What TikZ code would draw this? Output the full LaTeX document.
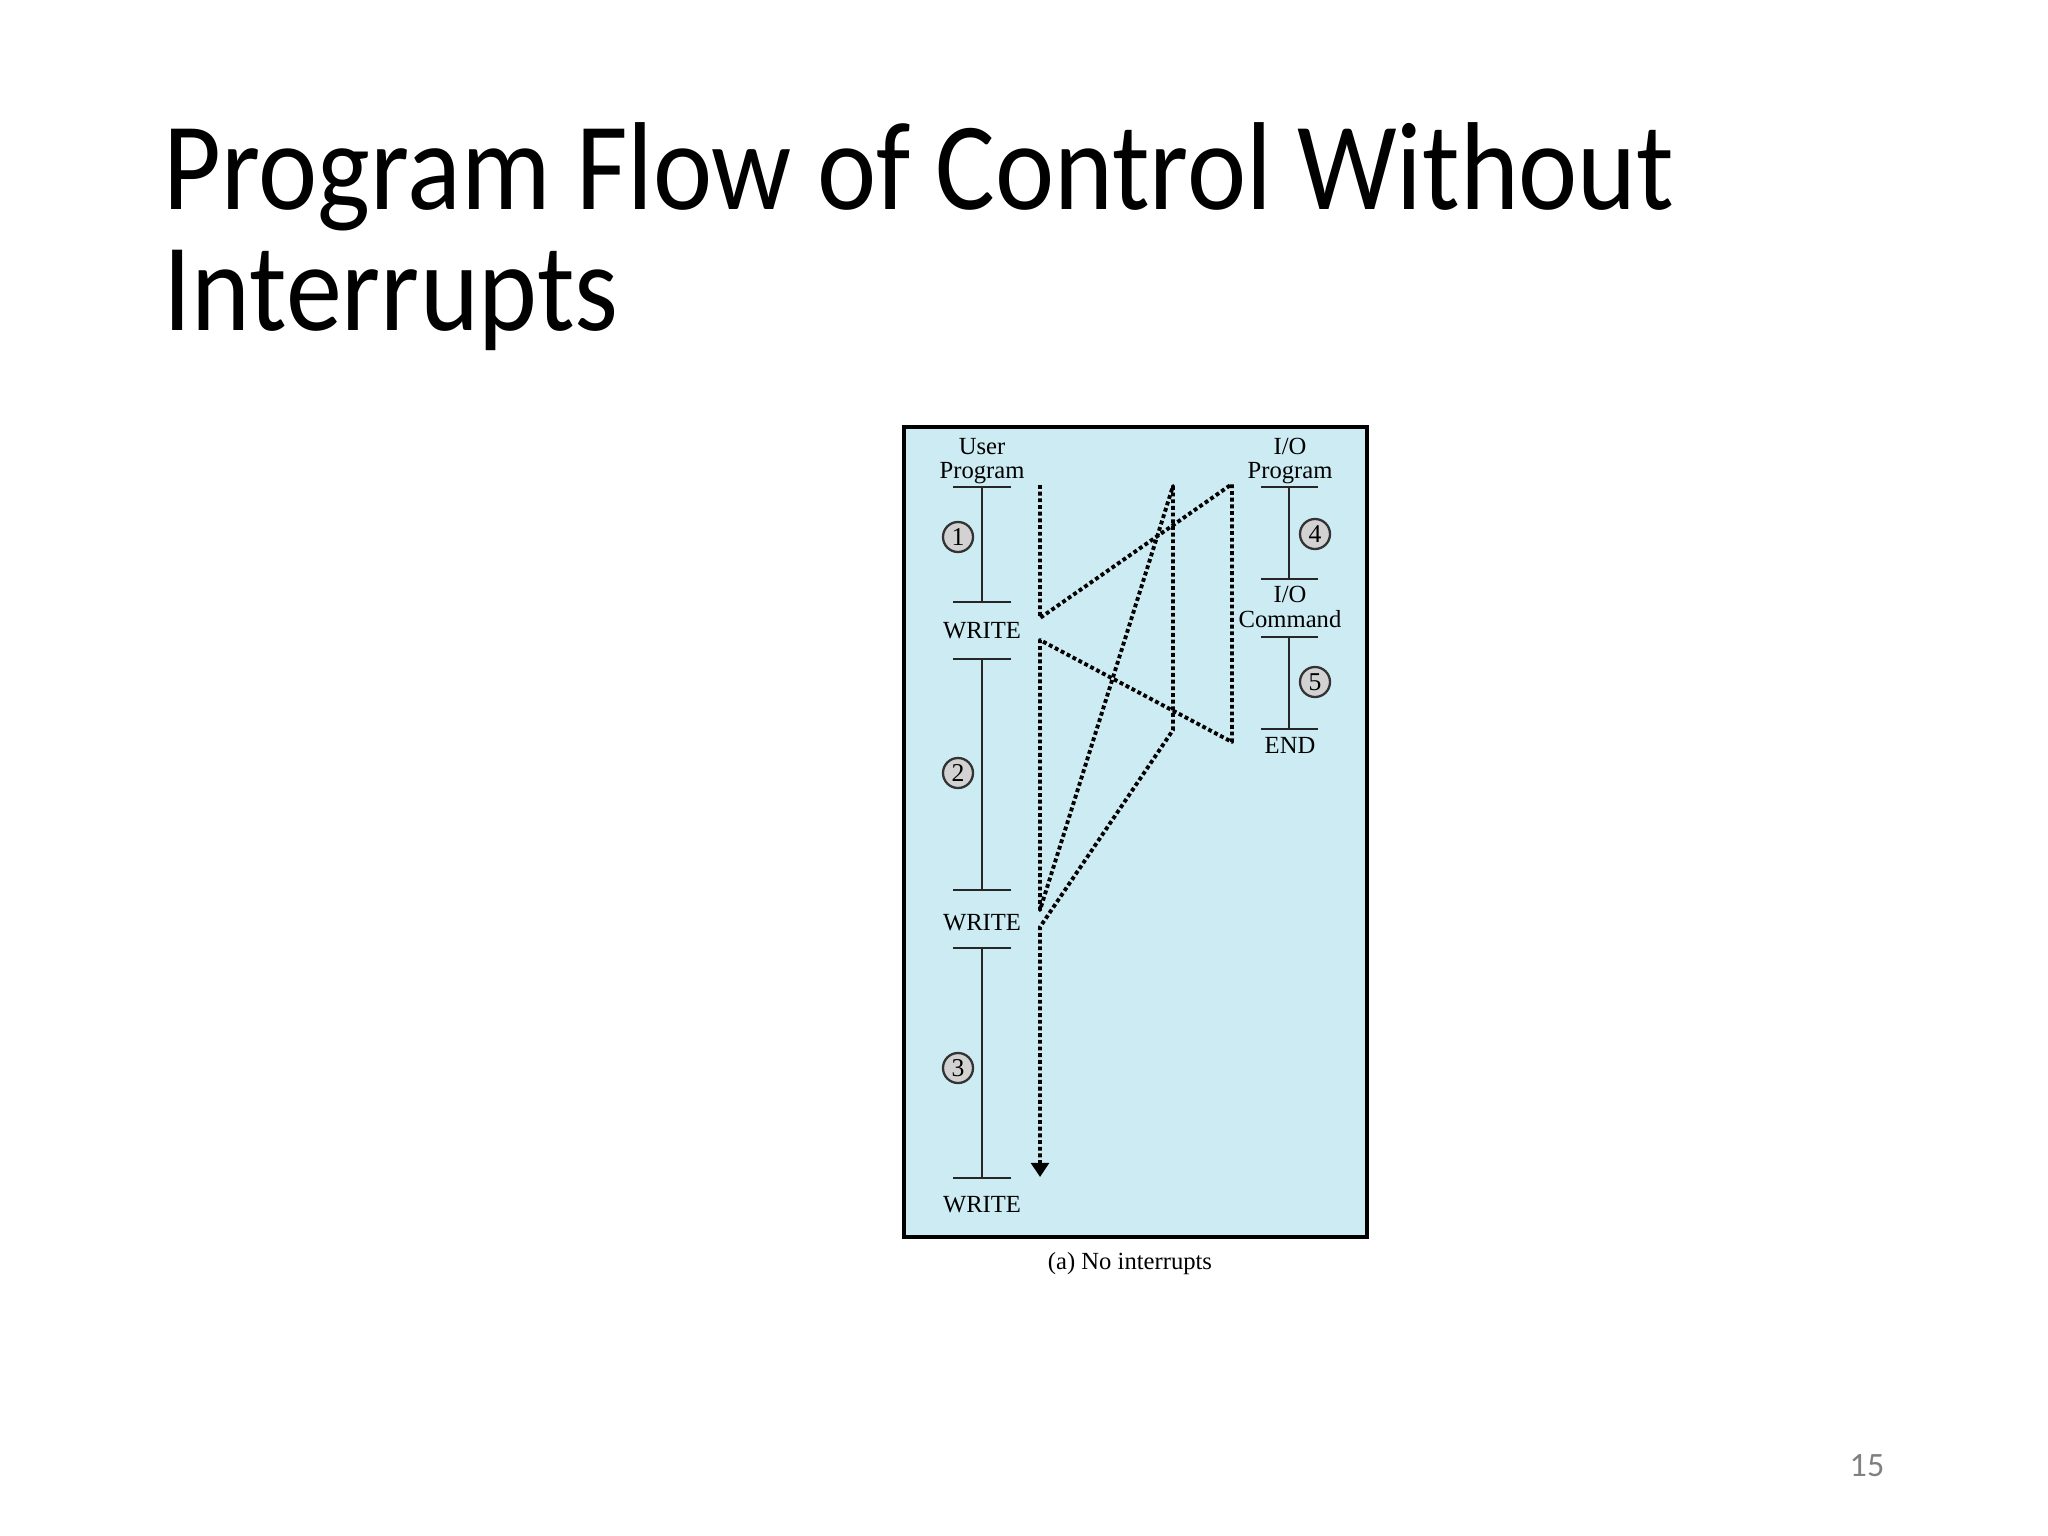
\documentclass[tikz,border=0pt]{standalone}
\usepackage{fontspec}
\setmainfont{Carlito}
\newfontfamily\titulo[FakeStretch=0.895]{Carlito}
\newfontfamily\livro{Liberation Serif}
\usetikzlibrary{arrows.meta}
\definecolor{fundo}{RGB}{204,235,242}
\definecolor{circulo}{RGB}{210,210,210}
\tikzset{
    fluxo/.style={line width=1.1pt, dash pattern=on 1.1pt off 0.8pt, line join=round},
    linha/.style={line width=0.65pt, draw=black!85},
    passo/.style={circle, draw=black!80, fill=circulo, line width=0.65pt, minimum size=0.3cm, inner sep=0pt, font=\livro\fontsize{7.3}{7.3}\selectfont},
    rotulo/.style={inner sep=0pt, font=\livro\fontsize{7}{6.9}\selectfont, align=center}
}

\begin{document}
\begin{tikzpicture}[x=0.01cm, y=-0.01cm]
    \useasboundingbox (0,0) rectangle (2048,1536);
    % titulo e numero do slide
    \node[anchor=base west, inner sep=0pt, font=\titulo\fontsize{35.6}{35}\selectfont] (titulo1) at (163,209) {Program Flow of Control Without};
    \node[anchor=base west, inner sep=0pt, font=\titulo\fontsize{35.6}{35}\selectfont] (titulo2) at (163,330) {Interrupts};
    \node[anchor=base east, inner sep=0pt, text=black!50, font=\fontsize{9.7}{9.7}\selectfont] (pagina) at (1885,1476) {15};

    % quadro
    \draw[fill=fundo, line width=1.1pt] (904,427) rectangle (1367,1237);

    % programa do usuario
    \node[rotulo] (usuario) at (982,461) {User\\Program};
    \draw[linha] (953,487) -- (1011,487);
    \draw[linha] (982,487) -- (982,602);
    \draw[linha] (953,602) -- (1011,602);
    \node[rotulo, anchor=base] (write1) at (982,638) {WRITE};
    \draw[linha] (953,659) -- (1011,659);
    \draw[linha] (982,659) -- (982,890);
    \draw[linha] (953,890) -- (1011,890);
    \node[rotulo, anchor=base] (write2) at (982,930) {WRITE};
    \draw[linha] (953,948) -- (1011,948);
    \draw[linha] (982,948) -- (982,1178);
    \draw[linha] (953,1178) -- (1011,1178);
    \node[rotulo, anchor=base] (write3) at (982,1212) {WRITE};
    \node[passo] (p1) at (958,537) {1};
    \node[passo] (p2) at (958,773) {2};
    \node[passo] (p3) at (958,1068) {3};

    % programa de E/S
    \node[rotulo] (es) at (1290,461) {I/O\\Program};
    \draw[linha] (1261,487) -- (1318,487);
    \draw[linha] (1289,487) -- (1289,579);
    \draw[linha] (1261,579) -- (1318,579);
    \node[rotulo] (comando) at (1290,607) {I/O\\Command};
    \draw[linha] (1261,637) -- (1318,637);
    \draw[linha] (1289,637) -- (1289,729);
    \draw[linha] (1261,729) -- (1318,729);
    \node[rotulo, anchor=base] (fim) at (1290,753) {END};
    \node[passo] (p4) at (1315,534) {4};
    \node[passo] (p5) at (1315,682) {5};

    % fluxo de controle
    \coordinate (u1) at (1040,485);
    \coordinate (u2) at (1040,618);
    \coordinate (i1) at (1232,484);
    \coordinate (i2) at (1232,742);
    \coordinate (u3) at (1040,640);
    \coordinate (u4) at (1040,910);
    \coordinate (m1) at (1173,486);
    \coordinate (m2) at (1173,730);
    \coordinate (u5) at (1040,927);
    \coordinate (u6) at (1040,1177);
    \draw[fluxo, -{Triangle[width=5pt, length=4pt]}] (u1) -- (u2) -- (i1) -- (i2) -- (u3) -- (u4)
        -- (m1) -- (m2) -- (u5) -- (u6);

    \node[rotulo, anchor=base] (legenda) at (1130,1269) {(a) No interrupts};
\end{tikzpicture}
\end{document}
